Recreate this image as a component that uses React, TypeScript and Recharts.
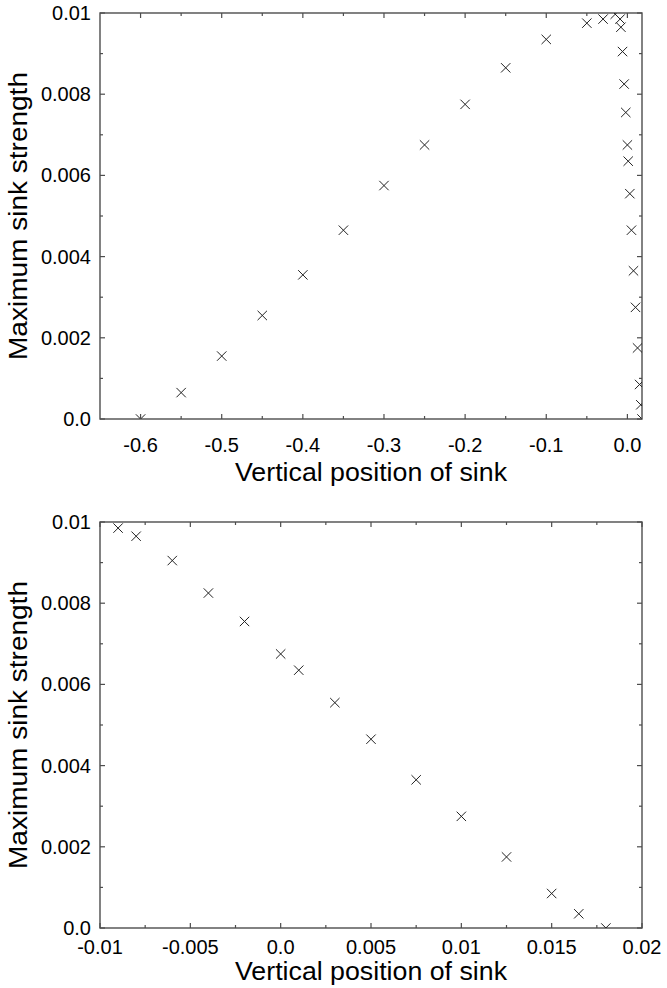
import React from 'react';
import { ScatterChart, Scatter, XAxis, YAxis, Label } from 'recharts';

// left branch, only visible in the wide view
const farPos = [-0.6, -0.55, -0.5, -0.45, -0.4, -0.35, -0.3, -0.25, -0.2, -0.15, -0.1, -0.05, -0.03, -0.015];
const farStrength = [0, 0.00065, 0.00155, 0.00255, 0.00355, 0.00465, 0.00575, 0.00675, 0.00775, 0.00865, 0.00935, 0.00975, 0.00985, 0.00997];

// points close to zero (both views)
const nearPos = [-0.009, -0.008, -0.006, -0.004, -0.002, 0, 0.001, 0.003, 0.005, 0.0075, 0.01, 0.0125, 0.015, 0.0165, 0.018];
const nearStrength = [0.00985, 0.00965, 0.00905, 0.00825, 0.00755, 0.00675, 0.00635, 0.00555, 0.00465, 0.00365, 0.00275, 0.00175, 0.00085, 0.00035, 0];

const yMajor = [0, 0.002, 0.004, 0.006, 0.008, 0.01];
const yMinor = [0.001, 0.003, 0.005, 0.007, 0.009];
const yLabels = ['0.0', '0.002', '0.004', '0.006', '0.008', '0.01'];

const wideMajor = [-0.6, -0.5, -0.4, -0.3, -0.2, -0.1, 0];
const wideMinor = [-0.55, -0.45, -0.35, -0.25, -0.15, -0.05];
const wideLabels = ['-0.6', '-0.5', '-0.4', '-0.3', '-0.2', '-0.1', '0.0'];

const zoomMajor = [-0.01, -0.005, 0, 0.005, 0.01, 0.015, 0.02];
const zoomMinor = [-0.0075, -0.0025, 0.0025, 0.0075, 0.0125, 0.0175];
const zoomLabels = ['-0.01', '-0.005', '0.0', '0.005', '0.01', '0.015', '0.02'];

const FONT = '"Liberation Sans", Arial, Helvetica, sans-serif';
const AXIS = '#4d4d4d';
const INK = '#222222';
const PLOT_W = 542;
const PLOT_H = 406;
const TOP = 13;
const LEFT = 100;

const toPoints = (xs: number[], ys: number[]) => xs.map((x, i) => ({ x, y: ys[i] }));

const findLabel = (v: number, major: number[], labels: string[]) => {
  const i = major.findIndex(m => Math.abs(m - v) < 1e-9);
  return i >= 0 ? labels[i] : null;
};

function Cross(props: any) {
  const { cx, cy } = props;
  const s = 4.7;
  return (
    <g stroke={INK} strokeWidth={1}>
      <line x1={cx - s} y1={cy - s} x2={cx + s} y2={cy + s} />
      <line x1={cx - s} y1={cy + s} x2={cx + s} y2={cy - s} />
    </g>
  );
}

interface PanelProps {
  data: { x: number; y: number }[];
  xDomain: [number, number];
  xMajor: number[];
  xMinor: number[];
  xLabels: string[];
  height: number;
  labelDy: number;
  titleDy: number;
}

function Panel({ data, xDomain, xMajor, xMinor, xLabels, height, labelDy, titleDy }: PanelProps) {
  const xTicks = [...xMajor, ...xMinor].sort((a, b) => a - b);
  const yTicks = [...yMajor, ...yMinor].sort((a, b) => a - b);

  // ticks point inward, mirrored on top / right edges
  const bottomTick = (p: any) => {
    const lab = findLabel(p.payload.value, xMajor, xLabels);
    const len = lab ? 5 : 3;
    const yb = TOP + PLOT_H;
    return (
      <g>
        <rect x={p.x - 0.6} y={yb - len} width={1.2} height={len} fill={AXIS} />
        <rect x={p.x - 0.6} y={TOP} width={1.2} height={len} fill={AXIS} />
        {lab && (
          <text x={p.x} y={yb + labelDy} textAnchor="middle" fontSize={20} fontFamily={FONT} fill="#000">
            {lab}
          </text>
        )}
      </g>
    );
  };
  const leftTick = (p: any) => {
    const lab = findLabel(p.payload.value, yMajor, yLabels);
    const len = lab ? 5 : 3;
    const xr = LEFT + PLOT_W;
    return (
      <g>
        <rect x={LEFT} y={p.y - 0.6} width={len} height={1.2} fill={AXIS} />
        <rect x={xr - len} y={p.y - 0.6} width={len} height={1.2} fill={AXIS} />
        {lab && (
          <text x={LEFT - 9} y={p.y + 7} textAnchor="end" fontSize={20} fontFamily={FONT} fill="#000">
            {lab}
          </text>
        )}
      </g>
    );
  };

  return (
    <ScatterChart width={667} height={height} margin={{ top: TOP, right: 25, bottom: 0, left: 0 }}>
      <XAxis
        type="number"
        dataKey="x"
        domain={xDomain}
        allowDataOverflow
        ticks={xTicks}
        interval={0}
        tickSize={0}
        tickMargin={0}
        tick={bottomTick}
        height={height - TOP - PLOT_H}
        axisLine={false}
      >
        <Label
          content={(lp: any) => {
            const vb = lp.viewBox;
            return (
              <text
                x={vb.x + vb.width / 2}
                y={vb.y + titleDy}
                textAnchor="middle"
                fontSize={25}
                fontFamily={FONT}
                fill="#000"
                textLength={272}
                lengthAdjust="spacingAndGlyphs"
              >
                Vertical position of sink
              </text>
            );
          }}
        />
      </XAxis>
      <YAxis
        type="number"
        dataKey="y"
        domain={[0, 0.01]}
        allowDataOverflow
        ticks={yTicks}
        interval={0}
        tickSize={0}
        tickMargin={0}
        tick={leftTick}
        width={LEFT}
        axisLine={false}
      >
        <Label
          content={(lp: any) => {
            const vb = lp.viewBox;
            const cy = vb.y + vb.height / 2;
            return (
              <g>
                {/* plot frame */}
                <rect
                  x={LEFT}
                  y={TOP}
                  width={PLOT_W}
                  height={PLOT_H}
                  fill="none"
                  stroke={AXIS}
                  strokeWidth={1.4}
                />
                <text
                  x={27}
                  y={cy}
                  transform={`rotate(-90, 27, ${cy})`}
                  textAnchor="middle"
                  fontSize={25}
                  fontFamily={FONT}
                  fill="#000"
                  textLength={288}
                  lengthAdjust="spacingAndGlyphs"
                >
                  Maximum sink strength
                </text>
              </g>
            );
          }}
        />
      </YAxis>
      <Scatter data={data} shape={<Cross />} isAnimationActive={false} />
    </ScatterChart>
  );
}

export default function App() {
  const wide = [...toPoints(farPos, farStrength), ...toPoints(nearPos, nearStrength)];
  const zoomed = toPoints(nearPos, nearStrength);
  return (
    <div style={{ position: 'absolute', left: 0, top: 0, width: 667, height: 988, background: '#fff' }}>
      <div style={{ position: 'absolute', left: 0, top: 0 }}>
        <Panel
          data={wide}
          xDomain={[-0.65, 0.018]}
          xMajor={wideMajor}
          xMinor={wideMinor}
          xLabels={wideLabels}
          height={500}
          labelDy={33}
          titleDy={62}
        />
      </div>
      <div style={{ position: 'absolute', left: 0, top: 509 }}>
        <Panel
          data={zoomed}
          xDomain={[-0.01, 0.02]}
          xMajor={zoomMajor}
          xMinor={zoomMinor}
          xLabels={zoomLabels}
          height={479}
          labelDy={26}
          titleDy={52}
        />
      </div>
    </div>
  );
}
